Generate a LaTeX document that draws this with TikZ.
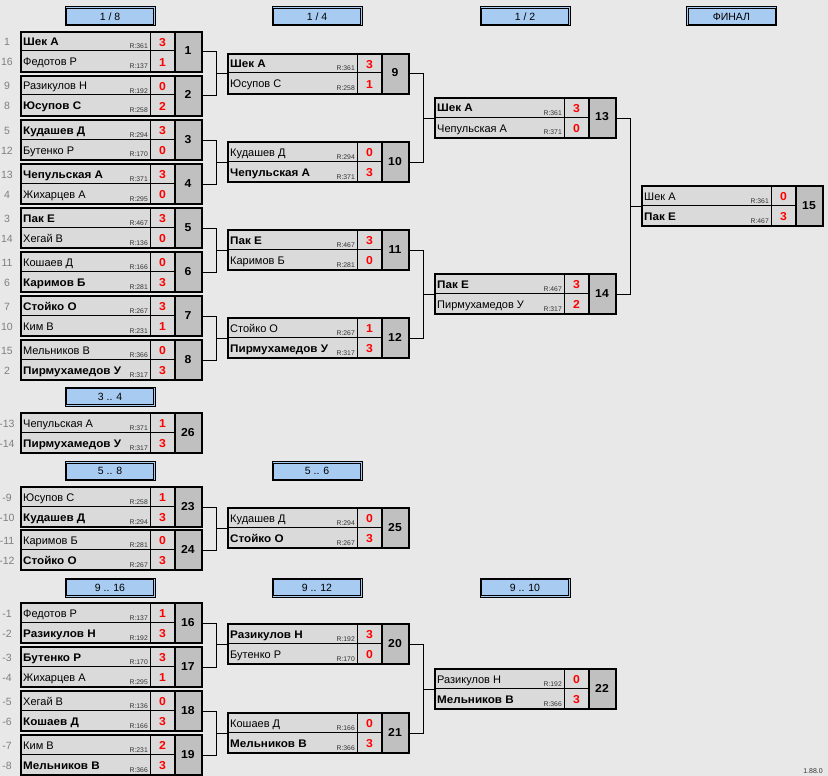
\documentclass[tikz,border=0pt]{standalone}
\usepackage{fontspec}
\setmainfont{Liberation Sans}[BoldFeatures={FakeStretch=1.06}]
\definecolor{bgc}{HTML}{E8E8E8}
\definecolor{rowc}{HTML}{DADADA}
\definecolor{numc}{HTML}{C0C0C0}
\definecolor{hdrc}{HTML}{A8CBF1}
\definecolor{seedc}{HTML}{7F7F7F}
\definecolor{ratc}{HTML}{333333}
\tikzset{
  mbox/.style={draw=black, line width=2pt, minimum width=181pt, minimum height=40pt, inner sep=0pt},
  thinln/.style={draw=black, line width=1pt},
  boxln/.style={draw=black, line width=2pt},
  conn/.style={draw=black, line width=1pt},
  numtxt/.style={font=\fontsize{11.5}{12}\selectfont\bfseries, inner sep=0pt, anchor=base},
  nametxt/.style={font=\fontsize{11}{12}\selectfont, inner sep=0pt, anchor=base west},
  rtxt/.style={font=\fontsize{6.8}{8}\selectfont, text=ratc, inner sep=0pt, anchor=base east},
  scoretxt/.style={font=\fontsize{11.5}{12}\selectfont\bfseries, text=red, inner sep=0pt, anchor=base},
  seedtxt/.style={font=\fontsize{10.5}{12}\selectfont, text=seedc, inner sep=0pt, anchor=base},
  hdr/.style={draw=black, line width=1pt, fill=hdrc,
    minimum width=90pt, minimum height=19pt, inner sep=0pt, font=\fontsize{10.5}{12}\selectfont},
  hdrin/.style={draw=black, line width=1pt},
}
\newcommand\myhdr[4]{%
  \node[hdr] (#1) at (#2,#3) {#4};
  \draw[hdrin] ([xshift=2pt,yshift=-2pt]#1.north west) rectangle ([xshift=-2pt,yshift=2pt]#1.south east);
}
\newcommand\mymatch[4]{%
  \def\curid{#1}\def\curx{#2}\def\cury{#3}%
  \fill[rowc] (#2,#3) rectangle ++(155,40);
  \fill[numc] ({#2+155},#3) rectangle ++(26,40);
  \draw[thinln] (#2,{#3+20}) -- ++(155,0);
  \draw[thinln] ({#2+130},#3) -- ++(0,40);
  \draw[boxln] ({#2+155},#3) -- ++(0,40);
  \node[mbox, anchor=north west] (m#1) at (#2,#3) {};
  \node[numtxt] (m#1n) at ({#2+168},{#3+24}) {#4};
}
\newcommand\myplayer[4]{% row offset, name, rating, score
  \node[nametxt] (m\curid n#1) at ({\curx+3},{\cury+#1+15}) {#2};
  \node[rtxt] (m\curid r#1) at ({\curx+128},{\cury+#1+18}) {R:#3};
  \node[scoretxt] (m\curid s#1) at ({\curx+142.5},{\cury+#1+15.5}) {#4};
}
\newcommand\myseed[2]{%
  \node[seedtxt] (m\curid d#1) at (7,{\cury+#1+15}) {#2};
}
\begin{document}
\begin{tikzpicture}[x=1pt,y=-1pt]
\fill[bgc] (0,0) rectangle (828,776);
\useasboundingbox (0,0) rectangle (828,776);

% headers
\myhdr{h1}{110}{16.5}{1 / 8}
\myhdr{h2}{317}{16.5}{1 / 4}
\myhdr{h3}{525}{16.5}{1 / 2}
\myhdr{h4}{731.5}{16.5}{ФИНАЛ}
\myhdr{h5}{110}{396.5}{3 .. 4}
\myhdr{h6}{110}{471}{5 .. 8}
\myhdr{h7}{317}{471}{5 .. 6}
\myhdr{h8}{110}{587.5}{9 .. 16}
\myhdr{h9}{317}{587.5}{9 .. 12}
\myhdr{h10}{525}{587.5}{9 .. 10}

% round 1/8
\mymatch{1}{20}{31}{1}
\myseed{0}{1}\myseed{20}{16}
\myplayer{0}{\bfseries Шек А}{361}{3}\myplayer{20}{Федотов Р}{137}{1}
\mymatch{2}{20}{75}{2}
\myseed{0}{9}\myseed{20}{8}
\myplayer{0}{Разикулов Н}{192}{0}\myplayer{20}{\bfseries Юсупов С}{258}{2}
\mymatch{3}{20}{119}{3}
\myseed{0}{5}\myseed{20}{12}
\myplayer{0}{\bfseries Кудашев Д}{294}{3}\myplayer{20}{Бутенко Р}{170}{0}
\mymatch{4}{20}{163}{4}
\myseed{0}{13}\myseed{20}{4}
\myplayer{0}{\bfseries Чепульская А}{371}{3}\myplayer{20}{Жихарцев А}{295}{0}
\mymatch{5}{20}{207}{5}
\myseed{0}{3}\myseed{20}{14}
\myplayer{0}{\bfseries Пак Е}{467}{3}\myplayer{20}{Хегай В}{136}{0}
\mymatch{6}{20}{251}{6}
\myseed{0}{11}\myseed{20}{6}
\myplayer{0}{Кошаев Д}{166}{0}\myplayer{20}{\bfseries Каримов Б}{281}{3}
\mymatch{7}{20}{295}{7}
\myseed{0}{7}\myseed{20}{10}
\myplayer{0}{\bfseries Стойко О}{267}{3}\myplayer{20}{Ким В}{231}{1}
\mymatch{8}{20}{339}{8}
\myseed{0}{15}\myseed{20}{2}
\myplayer{0}{Мельников В}{366}{0}\myplayer{20}{\bfseries Пирмухамедов У}{317}{3}

% round 1/4
\mymatch{9}{227}{53}{9}
\myplayer{0}{\bfseries Шек А}{361}{3}\myplayer{20}{Юсупов С}{258}{1}
\mymatch{10}{227}{141}{10}
\myplayer{0}{Кудашев Д}{294}{0}\myplayer{20}{\bfseries Чепульская А}{371}{3}
\mymatch{11}{227}{229}{11}
\myplayer{0}{\bfseries Пак Е}{467}{3}\myplayer{20}{Каримов Б}{281}{0}
\mymatch{12}{227}{317}{12}
\myplayer{0}{Стойко О}{267}{1}\myplayer{20}{\bfseries Пирмухамедов У}{317}{3}

% round 1/2
\mymatch{13}{434}{97}{13}
\myplayer{0}{\bfseries Шек А}{361}{3}\myplayer{20}{Чепульская А}{371}{0}
\mymatch{14}{434}{273}{14}
\myplayer{0}{\bfseries Пак Е}{467}{3}\myplayer{20}{Пирмухамедов У}{317}{2}

% final
\mymatch{15}{641}{185}{15}
\myplayer{0}{Шек А}{361}{0}\myplayer{20}{\bfseries Пак Е}{467}{3}

% 3..4
\mymatch{26}{20}{412}{26}
\myseed{0}{-13}\myseed{20}{-14}
\myplayer{0}{Чепульская А}{371}{1}\myplayer{20}{\bfseries Пирмухамедов У}{317}{3}

% 5..8
\mymatch{23}{20}{486}{23}
\myseed{0}{-9}\myseed{20}{-10}
\myplayer{0}{Юсупов С}{258}{1}\myplayer{20}{\bfseries Кудашев Д}{294}{3}
\mymatch{24}{20}{529}{24}
\myseed{0}{-11}\myseed{20}{-12}
\myplayer{0}{Каримов Б}{281}{0}\myplayer{20}{\bfseries Стойко О}{267}{3}
\mymatch{25}{227}{507}{25}
\myplayer{0}{Кудашев Д}{294}{0}\myplayer{20}{\bfseries Стойко О}{267}{3}

% 9..16
\mymatch{16}{20}{602}{16}
\myseed{0}{-1}\myseed{20}{-2}
\myplayer{0}{Федотов Р}{137}{1}\myplayer{20}{\bfseries Разикулов Н}{192}{3}
\mymatch{17}{20}{646}{17}
\myseed{0}{-3}\myseed{20}{-4}
\myplayer{0}{\bfseries Бутенко Р}{170}{3}\myplayer{20}{Жихарцев А}{295}{1}
\mymatch{18}{20}{690}{18}
\myseed{0}{-5}\myseed{20}{-6}
\myplayer{0}{Хегай В}{136}{0}\myplayer{20}{\bfseries Кошаев Д}{166}{3}
\mymatch{19}{20}{734}{19}
\myseed{0}{-7}\myseed{20}{-8}
\myplayer{0}{Ким В}{231}{2}\myplayer{20}{\bfseries Мельников В}{366}{3}
\mymatch{20}{227}{623}{20}
\myplayer{0}{\bfseries Разикулов Н}{192}{3}\myplayer{20}{Бутенко Р}{170}{0}
\mymatch{21}{227}{712}{21}
\myplayer{0}{Кошаев Д}{166}{0}\myplayer{20}{\bfseries Мельников В}{366}{3}
\mymatch{22}{434}{668}{22}
\myplayer{0}{Разикулов Н}{192}{0}\myplayer{20}{\bfseries Мельников В}{366}{3}

% connectors
\foreach \a/\b/\c in {1/2/9, 3/4/10, 5/6/11, 7/8/12, 9/10/13, 11/12/14, 13/14/15, 23/24/25, 16/17/20, 18/19/21, 20/21/22}{
  \draw[conn] (m\a.east) -- ++(13,0) |- (m\c.west);
  \draw[conn] (m\b.east) -- ++(13,0) |- (m\c.west);
}

\node[font=\fontsize{7}{8}\selectfont, text=ratc, inner sep=0pt, anchor=base east] (ver) at (823,773) {1.88.0};
\end{tikzpicture}
\end{document}
